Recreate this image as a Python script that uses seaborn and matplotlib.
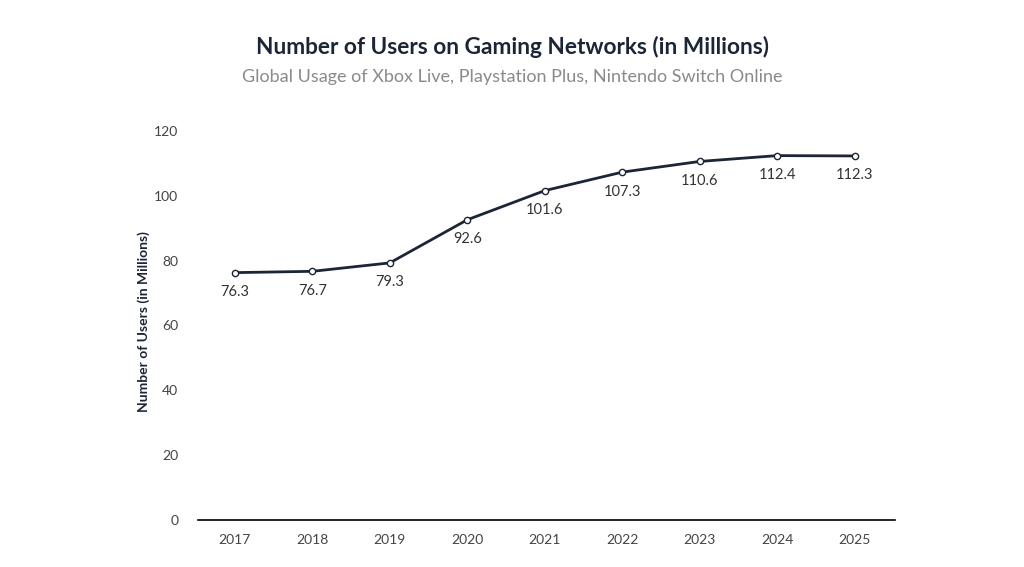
import matplotlib
matplotlib.use("Agg")
import matplotlib.pyplot as plt
import seaborn as sns
import pandas as pd

years = [2017, 2018, 2019, 2020, 2021, 2022, 2023, 2024, 2025]
users = [76.3, 76.7, 79.3, 92.6, 101.6, 107.3, 110.6, 112.4, 112.3]
yticks = [0, 20, 40, 60, 80, 100, 120]

df = pd.DataFrame({"year": years, "users": users})

sns.set_theme(style="white")
plt.rcParams['font.family'] = ['Lato', 'DejaVu Sans']

navy = "#1b2536"
fig = plt.figure(figsize=(10.24, 5.67), dpi=100)
ax = fig.add_axes([0.193, 0.083, 0.681, 0.686])

sns.lineplot(data=df, x="year", y="users", ax=ax, color=navy, linewidth=2,
             marker="o", markersize=4.5, markerfacecolor="white",
             markeredgecolor=navy, markeredgewidth=1, clip_on=False)

for x, y in zip(years, users):
    ax.annotate(f"{y}", (x, y), xytext=(0, -9), textcoords="offset points",
                ha="center", va="top", fontsize=10.5, color="#333333")

ax.set_xlim(2016.52, 2025.52)
ax.set_ylim(0, 120)
ax.set_xticks(years)
ax.set_yticks(yticks)
ax.tick_params(axis="both", length=0, labelsize=10, labelcolor="#444444", pad=10)
ax.tick_params(axis="y", pad=14)
for s in ["top", "right", "left"]:
    ax.spines[s].set_visible(False)
ax.spines["bottom"].set_color("black")
ax.spines["bottom"].set_linewidth(1.2)
ax.set_xlabel("")
ax.set_ylabel("Number of Users (in Millions)", fontsize=10, fontweight="bold",
              color=navy, labelpad=3)
ax.yaxis.set_label_coords(-0.068, 0.51)

fig.text(0.5, 0.918, "Number of Users on Gaming Networks (in Millions)", ha="center",
         va="center", fontsize=16.3, fontweight="bold", color=navy)
fig.text(0.5, 0.865, "Global Usage of Xbox Live, Playstation Plus, Nintendo Switch Online",
         ha="center", va="center", fontsize=13, color="#8a8a8a")

fig.savefig("out.png", dpi=100)
